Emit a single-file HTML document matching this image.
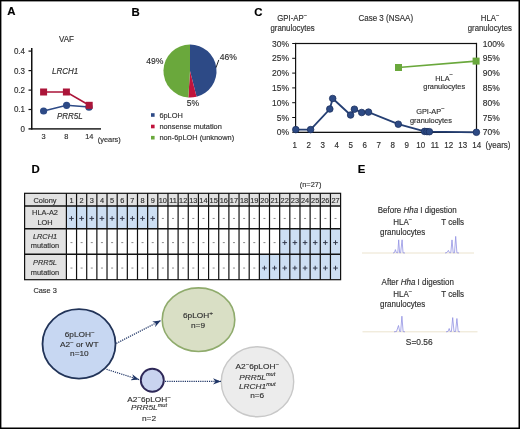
<!DOCTYPE html>
<html><head><meta charset="utf-8">
<style>
html,body{margin:0;padding:0;background:#fff;}
body{width:520px;height:429px;overflow:hidden;}
svg{display:block;filter:blur(0.3px);}
svg text:not(.b){transform-box:fill-box;transform-origin:50% 81%;transform:scaleY(1.08);}
text{font-family:"Liberation Sans",sans-serif;fill:#303030;stroke:#303030;stroke-width:0.15px;}
.b{font-weight:bold;fill:#000;stroke:#000;font-size:11.4px;}
.t8{font-size:8px;}
.t7{font-size:7.4px;}
.i{font-style:italic;}
svg .dg text{transform:scaleY(0.96);}
</style></head><body>
<svg width="520" height="429" viewBox="0 0 520 429">
<rect x="0" y="0" width="520" height="429" fill="#fff"/>

<!-- ===== Panel A ===== -->
<text class="b" x="7.3" y="15.2">A</text>
<text class="t8" x="59" y="42.3">VAF</text>
<g fill="#111">
  <rect x="31" y="48" width="1.5" height="81.6"/>
  <rect x="28.5" y="128.2" width="72.5" height="1.4"/>
  <rect x="28.5" y="50.5" width="3" height="1.2"/>
  <rect x="28.5" y="70" width="3" height="1.2"/>
  <rect x="28.5" y="89.5" width="3" height="1.2"/>
  <rect x="28.5" y="108.9" width="3" height="1.2"/>
</g>
<g class="t8" text-anchor="end">
  <text x="25" y="54.1">0.4</text>
  <text x="25" y="73.6">0.3</text>
  <text x="25" y="93.1">0.2</text>
  <text x="25" y="112.5">0.1</text>
  <text x="25" y="131.9">0</text>
</g>
<g class="t7" text-anchor="middle">
  <text x="43.6" y="138.6">3</text>
  <text x="66.4" y="138.6">8</text>
  <text x="89.3" y="138.6">14</text>
</g>
<text class="t7" x="97.8" y="142.2">(years)</text>
<text class="t8 i" x="52" y="73.7">LRCH1</text>
<text class="t8 i" x="57" y="119">PRR5L</text>
<polyline points="43.6,111 66.6,105.3 89,107" fill="none" stroke="#2d4a86" stroke-width="1.6"/>
<circle cx="43.6" cy="111" r="3.6" fill="#2d4a86"/>
<circle cx="66.6" cy="105.3" r="3.6" fill="#2d4a86"/>
<circle cx="89" cy="107.2" r="3.6" fill="#2d4a86"/>
<polyline points="43.6,92 66.4,92 89.2,105.3" fill="none" stroke="#ab1539" stroke-width="1.6"/>
<rect x="40.1" y="88.5" width="7" height="7" fill="#ab1539"/>
<rect x="62.9" y="88.5" width="7" height="7" fill="#ab1539"/>
<rect x="85.7" y="101.8" width="7" height="7" fill="#ab1539"/>

<!-- ===== Panel B ===== -->
<text class="b" x="131.5" y="15.8">B</text>
<g transform="translate(190,71)">
  <path d="M0,0 L0,-26.5 A26.5,26.5 0 0 1 6.6,25.67 Z" fill="#2d4a86"/>
  <path d="M0,0 L6.6,25.67 A26.5,26.5 0 0 1 -1.66,26.45 Z" fill="#c0143c"/>
  <path d="M0,0 L-1.66,26.45 A26.5,26.5 0 0 1 0,-26.5 Z" fill="#6aa83c"/>
</g>
<line x1="216" y1="67.6" x2="218.8" y2="59.9" stroke="#111" stroke-width="0.9"/>
<text class="t8" x="219.8" y="60" style="font-size:8.6px">46%</text>
<text class="t8" x="146.2" y="63.6" style="font-size:8.6px">49%</text>
<text class="t8" x="186.8" y="105.8" style="font-size:8.6px">5%</text>
<rect x="151" y="113.2" width="3.6" height="3.6" fill="#2d4a86"/>
<rect x="151" y="124.7" width="3.6" height="3.6" fill="#c0143c"/>
<rect x="151" y="135.9" width="3.6" height="3.6" fill="#6aa83c"/>
<text class="t7" x="159.4" y="117.6">6pLOH</text>
<text class="t7" x="159.4" y="129.1">nonsense mutation</text>
<text class="t7" x="159.4" y="140.3">non-6pLOH (unknown)</text>

<!-- ===== Panel C ===== -->
<text class="b" x="254.2" y="15.7">C</text>
<text class="t8" x="277.3" y="20.7" style="font-size:7.8px">GPI-AP<tspan font-size="6" dy="-2.9">−</tspan></text>
<text class="t8" x="270.5" y="31" style="font-size:7.8px">granulocytes</text>
<text class="t8" x="358.5" y="20.7">Case 3 (NSAA)</text>
<text class="t8" x="480.8" y="20.8" style="font-size:7.8px">HLA<tspan font-size="6" dy="-2.9">−</tspan></text>
<text class="t8" x="467.7" y="31.5" style="font-size:7.8px">granulocytes</text>
<g fill="#111">
<rect x="295" y="42.9" width="182" height="1.2"/>
<rect x="295" y="131.7" width="182" height="1.3"/>
<rect x="295" y="42.9" width="1.2" height="90"/>
<rect x="475.9" y="42.9" width="1.2" height="90"/>
<rect x="292.2" y="43.0" width="3" height="1"/>
<rect x="292.2" y="57.8" width="3" height="1"/>
<rect x="292.2" y="72.6" width="3" height="1"/>
<rect x="292.2" y="87.4" width="3" height="1"/>
<rect x="292.2" y="102.2" width="3" height="1"/>
<rect x="292.2" y="117.0" width="3" height="1"/>
<rect x="292.2" y="131.8" width="3" height="1"/>
</g>
<g class="t8" text-anchor="end" style="font-size:8.5px">
  <text x="289" y="46.6">30%</text>
  <text x="289" y="61.4">25%</text>
  <text x="289" y="76.2">20%</text>
  <text x="289" y="91.0">15%</text>
  <text x="289" y="105.8">10%</text>
  <text x="289" y="120.6">5%</text>
  <text x="289" y="135.4">0%</text>
</g>
<g class="t8" style="font-size:8.5px">
  <text x="482.8" y="46.6">100%</text>
  <text x="482.8" y="61.4">95%</text>
  <text x="482.8" y="76.2">90%</text>
  <text x="482.8" y="91.0">85%</text>
  <text x="482.8" y="105.8">80%</text>
  <text x="482.8" y="120.6">75%</text>
  <text x="482.8" y="135.4">70%</text>
</g>
<g class="t8" text-anchor="middle">
  <text x="294.8" y="148.2">1</text>
  <text x="308.8" y="148.2">2</text>
  <text x="322.8" y="148.2">3</text>
  <text x="336.8" y="148.2">4</text>
  <text x="350.8" y="148.2">5</text>
  <text x="364.8" y="148.2">6</text>
  <text x="378.8" y="148.2">7</text>
  <text x="392.8" y="148.2">8</text>
  <text x="406.8" y="148.2">9</text>
  <text x="420.8" y="148.2">10</text>
  <text x="434.8" y="148.2">11</text>
  <text x="448.8" y="148.2">12</text>
  <text x="462.8" y="148.2">13</text>
  <text x="476.8" y="148.2">14</text>
</g>
<text class="t8" x="485.6" y="147.8">(years)</text>
<polyline points="295.8,129.6 310.6,129.6 329.8,109 332.7,98.5 350.6,115 354.4,109.2 361.7,112.5 368.5,112.1 398.3,124.2 424.6,131.4 429.4,131.7 476.4,132.3" fill="none" stroke="#253f73" stroke-width="1.8"/>
<g fill="#2d4a84" stroke="#1d3160" stroke-width="0.8">
  <circle cx="295.8" cy="129.6" r="3.3"/>
  <circle cx="310.6" cy="129.6" r="3.3"/>
  <circle cx="329.8" cy="109" r="3.3"/>
  <circle cx="332.7" cy="98.5" r="3.3"/>
  <circle cx="350.6" cy="115" r="3.3"/>
  <circle cx="354.4" cy="109.2" r="3.3"/>
  <circle cx="361.7" cy="112.5" r="3.3"/>
  <circle cx="368.5" cy="112.1" r="3.3"/>
  <circle cx="398.3" cy="124.2" r="3.3"/>
  <circle cx="424.6" cy="131.4" r="3.3"/>
  <circle cx="427" cy="131.6" r="3.3"/>
  <circle cx="429.4" cy="131.7" r="3.3"/>
  <circle cx="476.4" cy="132.3" r="3.3"/>
</g>
<line x1="398.5" y1="67.5" x2="476.1" y2="61.1" stroke="#6aa83c" stroke-width="1.6"/>
<rect x="395" y="64" width="7" height="7" fill="#6aa83c"/>
<rect x="472.6" y="57.6" width="7" height="7" fill="#6aa83c"/>
<text class="t7" x="435.2" y="80.5">HLA<tspan font-size="6" dy="-2.9">−</tspan></text>
<text class="t7" x="423.3" y="89.2">granulocytes</text>
<text class="t7" x="416.2" y="114.4">GPI-AP<tspan font-size="6" dy="-2.9">−</tspan></text>
<text class="t7" x="410" y="123.4">granulocytes</text>

<!-- ===== Panel D ===== -->
<text class="b" x="31.5" y="172.9">D</text>
<text class="t7" x="299.8" y="186.8">(n=27)</text>
<rect x="24.6" y="193.3" width="316.0" height="12.599999999999994" fill="#e2e2e2"/>
<rect x="24.6" y="205.9" width="41.800000000000004" height="73.79999999999998" fill="#e2e2e2"/>
<rect x="66.40" y="205.9" width="91.40" height="22.900000000000006" fill="#cddff3"/>
<rect x="279.67" y="228.8" width="60.93" height="25.399999999999977" fill="#cddff3"/>
<rect x="259.36" y="254.2" width="81.24" height="25.5" fill="#cddff3"/>
<rect x="24.6" y="193.3" width="316.0" height="86.39999999999998" fill="none" stroke="#111" stroke-width="1.2"/>
<line x1="24.6" y1="205.9" x2="340.6" y2="205.9" stroke="#111" stroke-width="1.5"/>
<line x1="24.6" y1="228.8" x2="340.6" y2="228.8" stroke="#111" stroke-width="1.5"/>
<line x1="24.6" y1="254.2" x2="340.6" y2="254.2" stroke="#111" stroke-width="1.5"/>
<line x1="66.40" y1="193.3" x2="66.40" y2="279.7" stroke="#111" stroke-width="1.2"/>
<line x1="76.56" y1="193.3" x2="76.56" y2="279.7" stroke="#111" stroke-width="1.2"/>
<line x1="86.71" y1="193.3" x2="86.71" y2="279.7" stroke="#111" stroke-width="1.2"/>
<line x1="96.87" y1="193.3" x2="96.87" y2="279.7" stroke="#111" stroke-width="1.2"/>
<line x1="107.02" y1="193.3" x2="107.02" y2="279.7" stroke="#111" stroke-width="1.2"/>
<line x1="117.18" y1="193.3" x2="117.18" y2="279.7" stroke="#111" stroke-width="1.2"/>
<line x1="127.33" y1="193.3" x2="127.33" y2="279.7" stroke="#111" stroke-width="1.2"/>
<line x1="137.49" y1="193.3" x2="137.49" y2="279.7" stroke="#111" stroke-width="1.2"/>
<line x1="147.64" y1="193.3" x2="147.64" y2="279.7" stroke="#111" stroke-width="1.2"/>
<line x1="157.80" y1="193.3" x2="157.80" y2="279.7" stroke="#111" stroke-width="1.2"/>
<line x1="167.96" y1="193.3" x2="167.96" y2="279.7" stroke="#111" stroke-width="1.2"/>
<line x1="178.11" y1="193.3" x2="178.11" y2="279.7" stroke="#111" stroke-width="1.2"/>
<line x1="188.27" y1="193.3" x2="188.27" y2="279.7" stroke="#111" stroke-width="1.2"/>
<line x1="198.42" y1="193.3" x2="198.42" y2="279.7" stroke="#111" stroke-width="1.2"/>
<line x1="208.58" y1="193.3" x2="208.58" y2="279.7" stroke="#111" stroke-width="1.2"/>
<line x1="218.73" y1="193.3" x2="218.73" y2="279.7" stroke="#111" stroke-width="1.2"/>
<line x1="228.89" y1="193.3" x2="228.89" y2="279.7" stroke="#111" stroke-width="1.2"/>
<line x1="239.04" y1="193.3" x2="239.04" y2="279.7" stroke="#111" stroke-width="1.2"/>
<line x1="249.20" y1="193.3" x2="249.20" y2="279.7" stroke="#111" stroke-width="1.2"/>
<line x1="259.36" y1="193.3" x2="259.36" y2="279.7" stroke="#111" stroke-width="1.2"/>
<line x1="269.51" y1="193.3" x2="269.51" y2="279.7" stroke="#111" stroke-width="1.2"/>
<line x1="279.67" y1="193.3" x2="279.67" y2="279.7" stroke="#111" stroke-width="1.2"/>
<line x1="289.82" y1="193.3" x2="289.82" y2="279.7" stroke="#111" stroke-width="1.2"/>
<line x1="299.98" y1="193.3" x2="299.98" y2="279.7" stroke="#111" stroke-width="1.2"/>
<line x1="310.13" y1="193.3" x2="310.13" y2="279.7" stroke="#111" stroke-width="1.2"/>
<line x1="320.29" y1="193.3" x2="320.29" y2="279.7" stroke="#111" stroke-width="1.2"/>
<line x1="330.44" y1="193.3" x2="330.44" y2="279.7" stroke="#111" stroke-width="1.2"/>
<g class="t7"><text x="71.48" y="202.6" text-anchor="middle">1</text>
<text x="81.63" y="202.6" text-anchor="middle">2</text>
<text x="91.79" y="202.6" text-anchor="middle">3</text>
<text x="101.94" y="202.6" text-anchor="middle">4</text>
<text x="112.10" y="202.6" text-anchor="middle">5</text>
<text x="122.26" y="202.6" text-anchor="middle">6</text>
<text x="132.41" y="202.6" text-anchor="middle">7</text>
<text x="142.57" y="202.6" text-anchor="middle">8</text>
<text x="152.72" y="202.6" text-anchor="middle">9</text>
<text x="162.88" y="202.6" text-anchor="middle">10</text>
<text x="173.03" y="202.6" text-anchor="middle">11</text>
<text x="183.19" y="202.6" text-anchor="middle">12</text>
<text x="193.34" y="202.6" text-anchor="middle">13</text>
<text x="203.50" y="202.6" text-anchor="middle">14</text>
<text x="213.66" y="202.6" text-anchor="middle">15</text>
<text x="223.81" y="202.6" text-anchor="middle">16</text>
<text x="233.97" y="202.6" text-anchor="middle">17</text>
<text x="244.12" y="202.6" text-anchor="middle">18</text>
<text x="254.28" y="202.6" text-anchor="middle">19</text>
<text x="264.43" y="202.6" text-anchor="middle">20</text>
<text x="274.59" y="202.6" text-anchor="middle">21</text>
<text x="284.74" y="202.6" text-anchor="middle">22</text>
<text x="294.90" y="202.6" text-anchor="middle">23</text>
<text x="305.06" y="202.6" text-anchor="middle">24</text>
<text x="315.21" y="202.6" text-anchor="middle">25</text>
<text x="325.37" y="202.6" text-anchor="middle">26</text>
<text x="335.52" y="202.6" text-anchor="middle">27</text>
<text x="45.00" y="202.8" text-anchor="middle">Colony</text>
<text x="45.00" y="215.2" text-anchor="middle">HLA-A2</text>
<text x="45.00" y="224.9" text-anchor="middle">LOH</text>
<text x="45.00" y="239" text-anchor="middle" font-style="italic">LRCH1</text>
<text x="45.00" y="248.2" text-anchor="middle">mutation</text>
<text x="45.00" y="265.5" text-anchor="middle" font-style="italic">PRR5L</text>
<text x="45.00" y="274.7" text-anchor="middle">mutation</text></g><path d="M69.18,218.45h4.6M71.48,216.15v4.6M79.33,218.45h4.6M81.63,216.15v4.6M89.49,218.45h4.6M91.79,216.15v4.6M99.64,218.45h4.6M101.94,216.15v4.6M109.80,218.45h4.6M112.10,216.15v4.6M119.96,218.45h4.6M122.26,216.15v4.6M130.11,218.45h4.6M132.41,216.15v4.6M140.27,218.45h4.6M142.57,216.15v4.6M150.42,218.45h4.6M152.72,216.15v4.6M282.44,242.60h4.6M284.74,240.30v4.6M292.60,242.60h4.6M294.90,240.30v4.6M302.76,242.60h4.6M305.06,240.30v4.6M312.91,242.60h4.6M315.21,240.30v4.6M323.07,242.60h4.6M325.37,240.30v4.6M333.22,242.60h4.6M335.52,240.30v4.6M262.13,268.05h4.6M264.43,265.75v4.6M272.29,268.05h4.6M274.59,265.75v4.6M282.44,268.05h4.6M284.74,265.75v4.6M292.60,268.05h4.6M294.90,265.75v4.6M302.76,268.05h4.6M305.06,265.75v4.6M312.91,268.05h4.6M315.21,265.75v4.6M323.07,268.05h4.6M325.37,265.75v4.6M333.22,268.05h4.6M335.52,265.75v4.6" stroke="#343a4c" stroke-width="1.0" fill="none"/><path d="M161.88,218.45h2M172.03,218.45h2M182.19,218.45h2M192.34,218.45h2M202.50,218.45h2M212.66,218.45h2M222.81,218.45h2M232.97,218.45h2M243.12,218.45h2M253.28,218.45h2M263.43,218.45h2M273.59,218.45h2M283.74,218.45h2M293.90,218.45h2M304.06,218.45h2M314.21,218.45h2M324.37,218.45h2M334.52,218.45h2M70.48,242.60h2M80.63,242.60h2M90.79,242.60h2M100.94,242.60h2M111.10,242.60h2M121.26,242.60h2M131.41,242.60h2M141.57,242.60h2M151.72,242.60h2M161.88,242.60h2M172.03,242.60h2M182.19,242.60h2M192.34,242.60h2M202.50,242.60h2M212.66,242.60h2M222.81,242.60h2M232.97,242.60h2M243.12,242.60h2M253.28,242.60h2M263.43,242.60h2M273.59,242.60h2M70.48,268.05h2M80.63,268.05h2M90.79,268.05h2M100.94,268.05h2M111.10,268.05h2M121.26,268.05h2M131.41,268.05h2M141.57,268.05h2M151.72,268.05h2M161.88,268.05h2M172.03,268.05h2M182.19,268.05h2M192.34,268.05h2M202.50,268.05h2M212.66,268.05h2M222.81,268.05h2M232.97,268.05h2M243.12,268.05h2M253.28,268.05h2" stroke="#777" stroke-width="0.85" fill="none"/>

<!-- diagram -->
<text class="t7" x="33.4" y="292.6">Case 3</text>
<defs>
<marker id="ah" viewBox="0 0 10 8" refX="10" refY="4" markerWidth="8" markerHeight="6.4" orient="auto" markerUnits="userSpaceOnUse">
<path d="M0,0 L10,4 L0,8 L3,4 Z" fill="#1f3566"/>
</marker>
</defs>
<ellipse cx="79" cy="343.9" rx="36.5" ry="34.7" fill="#c7d7f2" stroke="#213358" stroke-width="1.8"/>
<ellipse cx="198.5" cy="319.7" rx="36.3" ry="31.8" fill="#d9dfc5" stroke="#8fab6c" stroke-width="1.6"/>
<ellipse cx="257.5" cy="381.8" rx="36.2" ry="35" fill="#ececec" stroke="#c8c8c8" stroke-width="1.4"/>
<circle cx="152.3" cy="380.2" r="11.5" fill="#c9d3ef" stroke="#2e2858" stroke-width="1.9"/>
<g stroke="#1f3566" stroke-width="1.2" stroke-dasharray="1.2,1" fill="none">
<line x1="116.3" y1="343.4" x2="160.8" y2="320.6" marker-end="url(#ah)"/>
<line x1="106.5" y1="369.3" x2="139" y2="379.6" marker-end="url(#ah)"/>
<line x1="165" y1="381.4" x2="221" y2="381.4" marker-end="url(#ah)"/>
</g>
<g class="t8 dg" text-anchor="middle" style="font-size:8.3px">
<text x="79.6" y="336.7">6pLOH<tspan font-size="6" dy="-2.9">−</tspan></text>
<text x="79.2" y="346.5">A2<tspan font-size="6" dy="-2.9">−</tspan><tspan dy="2.9"> or WT</tspan></text>
<text x="79.4" y="356.3">n=10</text>
<text x="198" y="317.8">6pLOH<tspan font-size="6.5" dy="-3">+</tspan></text>
<text x="198" y="327.7">n=9</text>
<text x="149" y="401.9">A2<tspan font-size="6" dy="-2.9">−</tspan><tspan dy="2.9">6pLOH</tspan><tspan font-size="6" dy="-2.9">−</tspan></text>
<text x="149" y="410.2"><tspan font-style="italic">PRR5L</tspan><tspan font-size="5.6" dy="-3.3" font-style="italic">mut</tspan></text>
<text x="149" y="421">n=2</text>
<text x="257.2" y="369.2">A2<tspan font-size="6" dy="-2.9">−</tspan><tspan dy="2.9">6pLOH</tspan><tspan font-size="6" dy="-2.9">−</tspan></text>
<text x="257.2" y="379.6"><tspan font-style="italic">PRR5L</tspan><tspan font-size="5.6" dy="-3.3" font-style="italic">mut</tspan></text>
<text x="257.2" y="388.7"><tspan font-style="italic">LRCH1</tspan><tspan font-size="5.6" dy="-3.3" font-style="italic">mut</tspan></text>
<text x="257.2" y="398">n=6</text>
</g>

<!-- ===== Panel E ===== -->
<text class="b" x="357.8" y="173.4">E</text>
<g class="t8">
<text x="377.7" y="212.6">Before <tspan font-style="italic">Hha</tspan> I digestion</text>
<text x="393.2" y="225">HLA<tspan font-size="6" dy="-2.9">−</tspan></text>
<text x="441.2" y="225">T cells</text>
<text x="380" y="235.4">granulocytes</text>
<text x="381.6" y="285">After <tspan font-style="italic">Hha</tspan> I digestion</text>
<text x="393.2" y="297.3">HLA<tspan font-size="6" dy="-2.9">−</tspan></text>
<text x="441.2" y="297.3">T cells</text>
<text x="380" y="307.5">granulocytes</text>
<text x="405.8" y="344.8" style="font-size:8.4px">S=0.56</text>
</g>
<line x1="362" y1="253" x2="474" y2="253" stroke="#e6dcc2" stroke-width="0.8"/>
<line x1="362.5" y1="331.8" x2="477.5" y2="331.8" stroke="#e6dcc2" stroke-width="0.8"/>
<g fill="none" stroke="#8c8ce2" stroke-width="0.75">
<path d="M393,253 L394.5,252.5 L395.4,249.6 L396.3,252.5 L397.8,252.8 L398.7,239.8 L399.6,252.8 L400.6,252.8 L402.1,239.8 L403,252.8 L405,253"/>
<path d="M445,253 L447,252.5 L448.4,250.4 L449.4,252.6 L450.8,252.8 L452,239.9 L453.2,252.8 L454.5,252.8 L455.7,236.4 L456.9,252.8 L459,253"/>
<path d="M394,331.8 L396.5,331.5 L398.5,325.5 L399.7,331.5 L400.7,331.5 L401.9,316.2 L403.1,331.6 L405,331.8"/>
<path d="M446,331.8 L448,331.5 L449.2,328.5 L450.2,331.5 L451.4,331.5 L452.7,317.6 L454,331.5 L455.6,331.5 L456.9,318.5 L458.2,331.6 L460,331.8"/></g>

<!-- border -->
<g fill="#000"><rect x="0" y="0" width="520" height="1.4"/><rect x="0" y="0" width="1.4" height="429"/><rect x="518.5" y="0" width="1.5" height="429"/><rect x="0" y="427.5" width="520" height="1.5"/></g>
</svg>
</body></html>
